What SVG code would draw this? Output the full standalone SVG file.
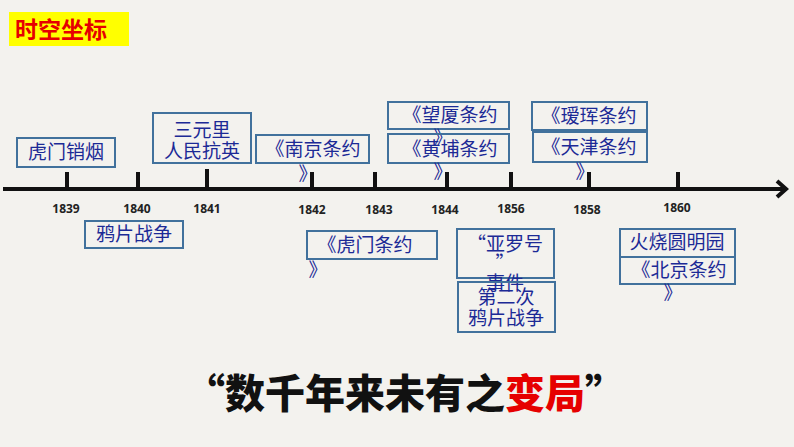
<svg xmlns="http://www.w3.org/2000/svg" width="794" height="447" viewBox="0 0 794 447">
<style>
.box{fill:none;stroke:#41719c;stroke-width:2}
.t{font-family:"Noto Sans CJK SC","Noto Sans",sans-serif;font-size:19px;fill:#1c2a96;text-anchor:middle}
.yr{font-family:"Open Sans","Liberation Sans",sans-serif;font-weight:bold;font-size:12px;fill:#222;text-anchor:middle}
.tick{stroke:#111;stroke-width:4}
</style>
<rect x="0" y="0" width="794" height="447" fill="#f3f2ee"/>
<g id="title">
<rect x="9" y="12" width="120" height="34" fill="#ffff00"/>
<text x="15" y="38" font-family="Noto Sans CJK SC,sans-serif" font-weight="bold" font-size="23" fill="#e60000">时空坐标</text>
</g>
<g id="connectors">
<line x1="3" y1="189" x2="785" y2="189" stroke="#111" stroke-width="4"/>
<polyline points="777,181 786,189 777,197" fill="none" stroke="#111" stroke-width="4" stroke-linejoin="miter"/>
<line class="tick" x1="67" y1="172" x2="67" y2="189"/>
<line class="tick" x1="138" y1="172" x2="138" y2="189"/>
<line class="tick" x1="207" y1="169" x2="207" y2="189"/>
<line class="tick" x1="312" y1="172" x2="312" y2="189"/>
<line class="tick" x1="375" y1="172" x2="375" y2="189"/>
<line class="tick" x1="447" y1="172" x2="447" y2="189"/>
<line class="tick" x1="511" y1="172" x2="511" y2="189"/>
<line class="tick" x1="589" y1="172" x2="589" y2="189"/>
<line class="tick" x1="678" y1="172" x2="678" y2="189"/>
</g>
<g id="years">
<text class="yr" x="66" y="213">1839</text>
<text class="yr" x="137" y="213">1840</text>
<text class="yr" x="207" y="213">1841</text>
<text class="yr" x="312" y="214">1842</text>
<text class="yr" x="379" y="214">1843</text>
<text class="yr" x="445" y="214">1844</text>
<text class="yr" x="511" y="213">1856</text>
<text class="yr" x="587" y="214">1858</text>
<text class="yr" x="677" y="212">1860</text>
</g>
<g id="n-humen">
<rect class="box" x="17" y="138" width="98" height="29"/>
<text class="t" x="66" y="159">虎门销烟</text>
</g>
<g id="n-yapian">
<rect class="box" x="85" y="221" width="98" height="27"/>
<text class="t" x="134" y="241">鸦片战争</text>
</g>
<g id="n-sanyuanli">
<rect class="box" x="153" y="113" width="98" height="50"/>
<text class="t" x="202" y="137">三元里</text>
<text class="t" x="202" y="158">人民抗英</text>
</g>
<g id="n-nanjing">
<rect class="box" x="256" y="135" width="113" height="28"/>
<text class="t" x="313" y="156">《南京条约</text>
<text class="t" x="308" y="181">》</text>
</g>
<g id="n-wangxia">
<rect class="box" x="388" y="102" width="121" height="27"/>
<text class="t" x="450" y="122">《望厦条约</text>
<text class="t" x="443" y="145">》</text>
</g>
<g id="n-huangpu">
<rect class="box" x="388" y="134" width="121" height="29"/>
<text class="t" x="450" y="156">《黄埔条约</text>
<text class="t" x="443" y="179">》</text>
</g>
<g id="n-humentiaoyue">
<rect class="box" x="307" y="231" width="130" height="28"/>
<text class="t" x="365" y="252">《虎门条约</text>
<text class="t" x="318" y="277">》</text>
</g>
<g id="n-yaluo">
<rect class="box" x="457" y="229" width="97" height="49"/>
<text class="t" x="505" y="251">“亚罗号</text>
<text class="t" x="505" y="270">”</text>
<text class="t" x="505" y="290">事件</text>
</g>
<g id="n-dierci">
<rect class="box" x="458" y="282" width="97" height="50"/>
<text class="t" x="506" y="304">第二次</text>
<text class="t" x="506" y="325">鸦片战争</text>
</g>
<g id="n-aihui">
<rect class="box" x="532" y="102" width="115" height="28"/>
<text class="t" x="589" y="123">《瑷珲条约</text>
</g>
<g id="n-tianjin">
<rect class="box" x="533" y="132" width="114" height="30"/>
<text class="t" x="589" y="154">《天津条约</text>
<text class="t" x="585" y="179">》</text>
</g>
<g id="n-yuanmingyuan">
<rect class="box" x="620" y="229" width="115" height="28"/>
<text class="t" x="677" y="249">火烧圆明园</text>
</g>
<g id="n-beijing">
<rect class="box" x="620" y="257" width="115" height="27"/>
<text class="t" x="679" y="277">《北京条约</text>
<text class="t" x="673" y="300">》</text>
</g>
<g id="slogan">
<text x="405" y="408" text-anchor="middle" font-family="Noto Sans CJK SC,sans-serif" font-weight="900" font-size="40" fill="#111">“数千年来未有之<tspan fill="#e60000">变局</tspan>”</text>
</g>
</svg>
